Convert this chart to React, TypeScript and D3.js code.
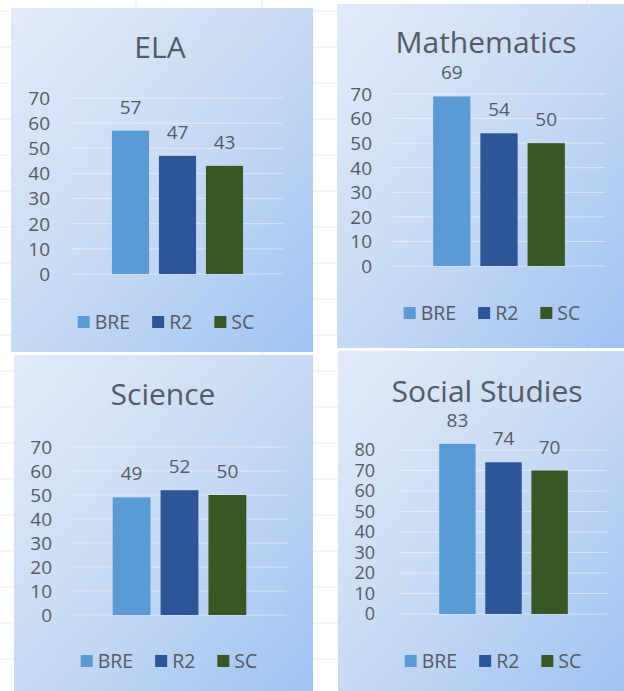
import React, { useEffect, useRef } from 'react';
import * as d3 from 'd3';

const subjects = ['ELA', 'Mathematics', 'Science', 'Social Studies'];
const seriesNames = ['BRE', 'R2', 'SC'];
const elaValues = [57, 47, 43];
const mathValues = [69, 54, 50];
const scienceValues = [49, 52, 50];
const socialValues = [83, 74, 70];
const axisMax = [70, 70, 70, 80];
const seriesColors = ['#5b9bd5', '#2e5597', '#385723'];

const allValues = [elaValues, mathValues, scienceValues, socialValues];

// panel boxes in page pixels, inner positions relative to each box
const layouts = [
  { x: 11, y: 8, w: 302, h: 344, titleY: 50, plotL: 61, plotR: 272, plotT: 90, plotB: 266, tickX: 39, legendY: 314, tickSize: 19 },
  { x: 337, y: 4, w: 287, h: 344, titleY: 49, plotL: 56, plotR: 268, plotT: 90, plotB: 262, tickX: 35, legendY: 309, tickSize: 19 },
  { x: 14, y: 355, w: 299, h: 336, titleY: 50, plotL: 58, plotR: 273, plotT: 92, plotB: 260, tickX: 38, legendY: 306, tickSize: 19 },
  { x: 338, y: 351, w: 286, h: 340, titleY: 51, plotL: 62, plotR: 269, plotT: 99, plotB: 263, tickX: 37, legendY: 310, tickSize: 18 },
];

const W = 624;
const H = 691;
const textColor = '#555b66';
const font = '"Open Sans", "DejaVu Sans", sans-serif';

const App: React.FC = () => {
  const svgRef = useRef<SVGSVGElement>(null);

  useEffect(() => {
    if (!svgRef.current) return;
    const svg = d3.select(svgRef.current);
    svg.selectAll('*').remove();

    const defs = svg.append('defs');
    const grad = defs.append('linearGradient')
      .attr('id', 'panel-bg')
      .attr('x1', '0%').attr('y1', '0%')
      .attr('x2', '100%').attr('y2', '100%');
    grad.append('stop').attr('offset', '0%').attr('stop-color', '#e3ebf9');
    grad.append('stop').attr('offset', '50%').attr('stop-color', '#c8daf4');
    grad.append('stop').attr('offset', '100%').attr('stop-color', '#9ec3f2');

    svg.append('rect').attr('width', W).attr('height', H).attr('fill', '#ffffff');

    // faint sheet grid behind the pasted charts
    d3.range(11, H, 36).forEach(y => {
      svg.append('line').attr('x1', 0).attr('x2', W).attr('y1', y).attr('y2', y)
        .attr('stroke', '#ececec').attr('stroke-width', 1);
    });
    [136, 262, 462, 587].forEach(x => {
      svg.append('line').attr('x1', x).attr('x2', x).attr('y1', 0).attr('y2', H)
        .attr('stroke', '#ececec').attr('stroke-width', 1);
    });

    subjects.forEach((subject, i) => {
      const L = layouts[i];
      const values = allValues[i];
      const g = svg.append('g').attr('transform', `translate(${L.x}, ${L.y})`);

      g.append('rect')
        .attr('width', L.w)
        .attr('height', L.h)
        .attr('fill', 'url(#panel-bg)');

      const yScale = d3.scaleLinear().domain([0, axisMax[i]]).range([L.plotB, L.plotT]);
      const xScale = d3.scaleBand<string>()
        .domain(seriesNames)
        .range([L.plotL, L.plotR])
        .paddingInner(0.21)
        .paddingOuter(0.85);

      const ticks = d3.range(0, axisMax[i] + 1, 10);

      // gridlines
      g.selectAll('.grid')
        .data(ticks)
        .enter()
        .append('line')
        .attr('x1', L.plotL)
        .attr('x2', L.plotR)
        .attr('y1', d => yScale(d))
        .attr('y2', d => yScale(d))
        .attr('stroke', '#ffffff')
        .attr('stroke-opacity', 0.45)
        .attr('stroke-width', 1);

      // tick labels
      g.selectAll('.tick-label')
        .data(ticks)
        .enter()
        .append('text')
        .attr('x', L.tickX)
        .attr('y', d => yScale(d))
        .attr('dy', '0.36em')
        .attr('text-anchor', 'end')
        .style('font-family', font)
        .style('font-size', `${L.tickSize}px`)
        .style('fill', textColor)
        .text(d => d);

      // title
      g.append('text')
        .attr('x', 149)
        .attr('y', L.titleY)
        .attr('text-anchor', 'middle')
        .style('font-family', font)
        .style('font-size', '30px')
        .style('fill', textColor)
        .text(subject);

      // bars
      g.selectAll('.bar')
        .data(values)
        .enter()
        .append('rect')
        .attr('x', (_, j) => xScale(seriesNames[j]) as number)
        .attr('y', d => yScale(d))
        .attr('width', xScale.bandwidth())
        .attr('height', d => L.plotB - yScale(d))
        .attr('fill', (_, j) => seriesColors[j]);

      // data labels
      g.selectAll('.value-label')
        .data(values)
        .enter()
        .append('text')
        .attr('x', (_, j) => (xScale(seriesNames[j]) as number) + xScale.bandwidth() / 2)
        .attr('y', d => yScale(d) - 17)
        .attr('text-anchor', 'middle')
        .style('font-family', font)
        .style('font-size', '19px')
        .style('fill', textColor)
        .text(d => d);

      // legend
      const legend = g.append('g');
      const gap = 22;
      let cursor = 0;
      seriesNames.forEach((name, j) => {
        legend.append('rect')
          .attr('x', cursor)
          .attr('y', L.legendY - 6)
          .attr('width', 12)
          .attr('height', 12)
          .attr('fill', seriesColors[j]);
        const t = legend.append('text')
          .attr('x', cursor + 17)
          .attr('y', L.legendY)
          .attr('dy', '0.36em')
          .style('font-family', font)
          .style('font-size', '19.5px')
          .style('fill', textColor)
          .text(name);
        const len = (t.node() as SVGTextElement).getComputedTextLength();
        cursor += 17 + len + gap;
      });
      const total = cursor - gap;
      legend.attr('transform', `translate(${155 - total / 2}, 0)`);
    });
  }, []);

  return (
    <>
      <style>{'body{margin:0}'}</style>
      <svg ref={svgRef} width={W} height={H} style={{ display: 'block' }}></svg>
    </>
  );
};

export default App;
